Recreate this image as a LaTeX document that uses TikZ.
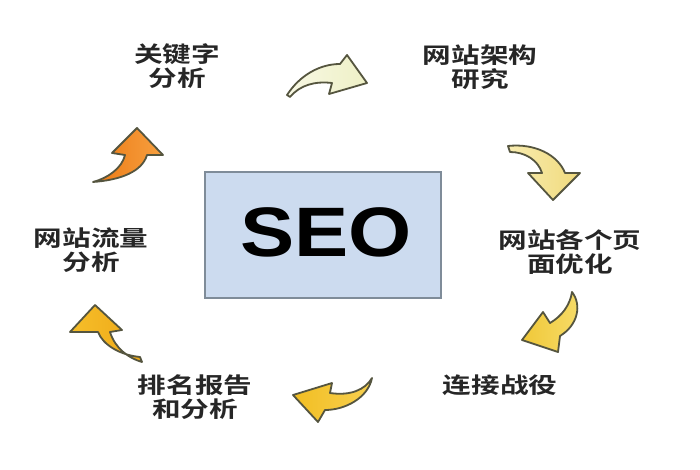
\documentclass[tikz,border=0pt]{standalone}
\usepackage{fontspec}
\newfontfamily\cjk{Noto Sans CJK SC}[BoldFont={Noto Sans CJK SC Bold}]
\newfontfamily\seofont{Liberation Sans}
\definecolor{outl}{HTML}{55553F}
\definecolor{boxfill}{HTML}{CCDBEF}
\definecolor{boxline}{HTML}{7F8C99}
\definecolor{aIl}{HTML}{F8F8E4}\definecolor{aIr}{HTML}{EEF0C6}
\definecolor{aIIl}{HTML}{F8ECB0}\definecolor{aIIr}{HTML}{F0DA7C}
\definecolor{aIIIl}{HTML}{F0C838}\definecolor{aIIIr}{HTML}{F6DC6A}
\definecolor{aIVl}{HTML}{F2BE22}\definecolor{aIVr}{HTML}{F7D050}
\definecolor{aVl}{HTML}{F6BE2A}\definecolor{aVr}{HTML}{EEA816}
\definecolor{aVIl}{HTML}{EC7A14}\definecolor{aVIr}{HTML}{F7A040}
\tikzset{
  lbl/.style={font=\cjk\bfseries\fontsize{22}{24}\selectfont, align=center, inner sep=0pt, xscale=1.3, text=black!85},
  arr/.style={draw=outl, line width=1.8pt, line join=round},
}
\begin{document}
\begin{tikzpicture}[x=1pt,y=-1pt]
\useasboundingbox[fill=white] (0,0) rectangle (700,470);
% central box
\node[draw=boxline, line width=2pt, fill=boxfill, minimum width=236pt, minimum height=126pt, inner sep=0pt] (seo) at (323,235) {};
\node[font=\seofont\bfseries\fontsize{70}{70}\selectfont, inner sep=0pt, xscale=1.16] (seot) at (326,232) {SEO};
% labels
\node[lbl] (l1) at (177,66) {关键字\\分析};
\node[lbl] (l2) at (480,67) {网站架构\\研究};
\node[lbl] (l3) at (570,252) {网站各个页\\面优化};
\node[lbl] (l4) at (500,385) {连接战役};
\node[lbl] (l5) at (195,397) {排名报告\\和分析};
\node[lbl] (l6) at (91,250) {网站流量\\分析};
% arrows
\path[arr, left color=aIl, right color=aIr] (287,95) .. controls (300,75) and (320,64) .. (340,64) -- (347,55) -- (367,83) -- (329,94) -- (332,83) .. controls (315,81) and (300,85) .. (290,97) -- cycle;
\path[arr, left color=aIIl, right color=aIIr] (508,146) .. controls (535,143) and (558,155) .. (565,173) -- (580,173) -- (553,200) -- (528,173) -- (542,173) .. controls (538,160) and (525,152) .. (510,152) -- cycle;
\path[arr, left color=aIIIl, right color=aIIIr] (572,292) .. controls (582,305) and (578,325) .. (560,336) -- (558,352) -- (522,340) -- (543,312) -- (550,323) .. controls (562,316) and (570,305) .. (572,292) -- cycle;
\path[arr, left color=aIVl, right color=aIVr] (372,378) .. controls (368,398) and (345,410) .. (325,410) -- (318,422) -- (293,395) -- (332,383) -- (330,393) .. controls (350,396) and (365,390) .. (372,378) -- cycle;
\path[arr, left color=aVl, right color=aVr] (95,305) -- (122,330) -- (110,332) .. controls (115,348) and (128,358) .. (142,362) -- (140,357) .. controls (120,355) and (103,345) .. (98,332) -- (70,332) -- cycle;
\path[arr, left color=aVIl, right color=aVIr] (93,182) .. controls (120,180) and (142,172) .. (147,155) -- (163,155) -- (137,128) -- (112,153) -- (125,155) .. controls (122,168) and (108,178) .. (93,182) -- cycle;
\end{tikzpicture}
\end{document}
